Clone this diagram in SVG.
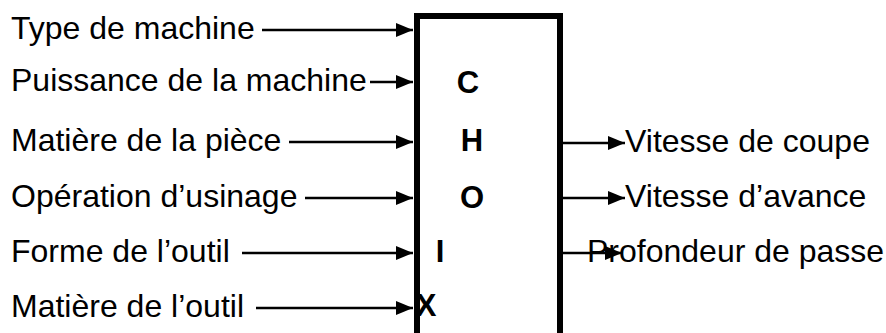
<svg xmlns="http://www.w3.org/2000/svg" width="886" height="333" viewBox="0 0 886 333">
<style>
.t{font-family:"Liberation Sans",Arial,sans-serif;font-size:32px;fill:#000}
.b{font-family:"Liberation Sans",Arial,sans-serif;font-size:31px;font-weight:bold;fill:#000;text-anchor:middle}
.c{stroke:#000;stroke-width:2.4;fill:none;marker-end:url(#ah)}
</style>
<defs>
<marker id="ah" markerUnits="userSpaceOnUse" markerWidth="17" markerHeight="14" refX="17" refY="7" orient="auto">
<path d="M0,0 L17,7 L0,14 z" fill="#000"/>
</marker>
</defs>
<rect width="886" height="333" fill="#fff"/>
<g id="box">
<path d="M417,340 V16 H560 V340" fill="none" stroke="#000" stroke-width="6"/>
<text class="b" x="468" y="93">C</text>
<text class="b" x="472" y="151">H</text>
<text class="b" x="472" y="208">O</text>
<text class="b" x="440" y="262">I</text>
<text class="b" x="426" y="316">X</text>
</g>
<g id="in1"><text class="t" x="11" y="39">Type de machine</text></g>
<g id="in2"><text class="t" x="11" y="91">Puissance de la machine</text></g>
<g id="in3"><text class="t" x="11" y="151">Matière de la pièce</text></g>
<g id="in4"><text class="t" x="11" y="207">Opération d’usinage</text></g>
<g id="in5"><text class="t" x="11" y="262">Forme de l’outil</text></g>
<g id="in6"><text class="t" x="11" y="317">Matière de l’outil</text></g>
<g id="out1"><text class="t" x="625" y="152">Vitesse de coupe</text></g>
<g id="out2"><text class="t" x="625" y="207">Vitesse d’avance</text></g>
<g id="out3"><text class="t" x="587" y="262">Profondeur de passe</text></g>
<g id="connectors">
<line class="c" x1="262" y1="30" x2="413" y2="30"/>
<line class="c" x1="370" y1="82" x2="413" y2="82"/>
<line class="c" x1="289" y1="142" x2="413" y2="142"/>
<line class="c" x1="305" y1="198" x2="413" y2="198"/>
<line class="c" x1="242" y1="253" x2="413" y2="253"/>
<line class="c" x1="256" y1="308" x2="413" y2="308"/>
<line class="c" x1="563" y1="143" x2="625" y2="143"/>
<line class="c" x1="563" y1="198" x2="625" y2="198"/>
<line class="c" x1="563" y1="253" x2="622" y2="253"/>
</g>
</svg>
